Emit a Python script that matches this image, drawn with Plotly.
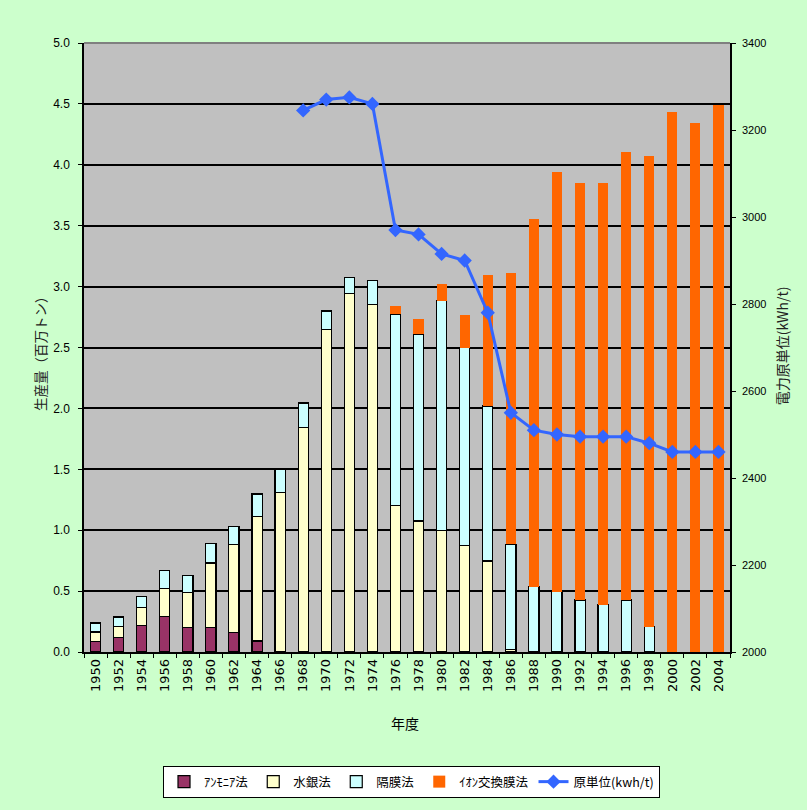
import plotly.graph_objects as go
from plotly.subplots import make_subplots

# Fiscal years (every second year)
years = [str(y) for y in range(1950, 2005, 2)]

# Production by process (million tonnes), stacked segments
ammonia = [0.085, 0.12, 0.215, 0.29, 0.2, 0.2, 0.16, 0.09] + [None] * 20
mercury = [0.08, 0.09, 0.15, 0.23, 0.29, 0.53, 0.72, 1.02, 1.31, 1.845,
           2.65, 2.945, 2.85, 1.2, 1.075, 1.0, 0.876, 0.747, 0.02] + [None] * 9
diaphragm = [0.073, 0.077, 0.09, 0.15, 0.137, 0.162, 0.148, 0.187, 0.187, 0.2,
             0.15, 0.13, 0.2, 1.575, 1.535, 1.885, 1.624, 1.273, 0.864,
             0.536, 0.495, 0.427, 0.39, 0.427, 0.208, None, None, None]
ion_exchange = [None] * 13 + [0.065, 0.12, 0.135, 0.267, 1.075, 2.23,
                              3.02, 3.445, 3.42, 3.458, 3.678, 3.862,
                              4.433, 4.343, 4.49]

# Electricity consumption per unit (kWh/t)
unit_power = [None] * 9 + [3245, 3270, 3275, 3260, 2970, 2960, 2915, 2900,
                           2780, 2550, 2510, 2500, 2495, 2495, 2495, 2480,
                           2460, 2460, 2460]

jp = "Noto Sans CJK JP"
latin = "DejaVu Sans, Liberation Sans, sans-serif"
narrow = "Liberation Sans Narrow, Liberation Sans, Arial, sans-serif"

fig = make_subplots(specs=[[{"secondary_y": True}]])

outline = dict(color="black", width=1.2)
fig.add_trace(go.Bar(x=years, y=ammonia, name="ｱﾝﾓﾆｱ法",
                     marker=dict(color="#993366", line=outline)), secondary_y=False)
fig.add_trace(go.Bar(x=years, y=mercury, name="水銀法",
                     marker=dict(color="#FFFFCC", line=outline)), secondary_y=False)
fig.add_trace(go.Bar(x=years, y=diaphragm, name="隔膜法",
                     marker=dict(color="#CCFFFF", line=outline)), secondary_y=False)
fig.add_trace(go.Bar(x=years, y=ion_exchange, name="ｲｵﾝ交換膜法",
                     marker=dict(color="#FF6600", line=dict(width=0))), secondary_y=False)
fig.add_trace(go.Scatter(x=years, y=unit_power, name="原単位(kwh/t)",
                         mode="lines+markers",
                         line=dict(color="#3366FF", width=3),
                         marker=dict(symbol="diamond", size=11, color="#3366FF")),
              secondary_y=True)

fig.update_layout(
    width=807, height=810,
    margin=dict(l=84, r=77, t=43, b=158),
    paper_bgcolor="#CCFFCC",
    plot_bgcolor="#C0C0C0",
    barmode="stack",
    bargap=0.56,
    font=dict(family=jp, size=12, color="black"),
    legend=dict(orientation="h", x=0.1223, y=-0.1872, xanchor="left", yanchor="top",
                bgcolor="white", bordercolor="black", borderwidth=1,
                font=dict(family=jp, size=12.5), traceorder="normal"),
)

fig.update_xaxes(
    type="category", range=[-0.5, len(years) - 0.5], domain=[0, 1],
    tickangle=-90, tickfont=dict(family=latin, size=13),
    ticks="outside", tickson="boundaries", ticklen=4, tickcolor="black",
    showline=True, linecolor="black", linewidth=1.5,
    showgrid=False, automargin=False,
)

fig.update_yaxes(
    range=[0, 5.0], dtick=0.5, tickformat=".1f",
    tickfont=dict(family=narrow, size=12),
    ticks="outside", ticklen=4, tickcolor="black", ticklabelstandoff=6,
    showline=True, linecolor="black", linewidth=1.5,
    showgrid=True, gridcolor="black", gridwidth=1.5,
    zeroline=False, automargin=False,
    secondary_y=False,
)

fig.update_yaxes(
    range=[2000, 3400], dtick=200,
    tickfont=dict(family=narrow, size=11),
    ticks="outside", ticklen=4, tickcolor="black", ticklabelstandoff=4,
    showline=True, linecolor="black", linewidth=1.5,
    showgrid=False, zeroline=False, automargin=False,
    secondary_y=True,
)

# Axis titles
fig.add_annotation(text="生産量（百万トン）", xref="paper", yref="paper",
                   x=-0.068, y=0.496, xanchor="center", yanchor="middle",
                   textangle=-90, showarrow=False,
                   font=dict(family=jp, size=13.5, color="#222222"))
fig.add_annotation(text="電力原単位(kWh/t)", xref="paper", yref="paper",
                   x=1.08, y=0.503, xanchor="center", yanchor="middle",
                   textangle=-90, showarrow=False,
                   font=dict(family=jp, size=14, color="#222222"))
fig.add_annotation(text="年度", xref="paper", yref="paper",
                   x=0.497, y=-0.116, xanchor="center", yanchor="middle",
                   showarrow=False,
                   font=dict(family=jp, size=14, color="black"))

# Grey frame edge along the top of the plotting area
fig.add_shape(type="line", xref="paper", yref="paper", x0=0, x1=1, y0=1, y1=1,
              line=dict(color="#808080", width=2))

fig.write_html("out.html")
